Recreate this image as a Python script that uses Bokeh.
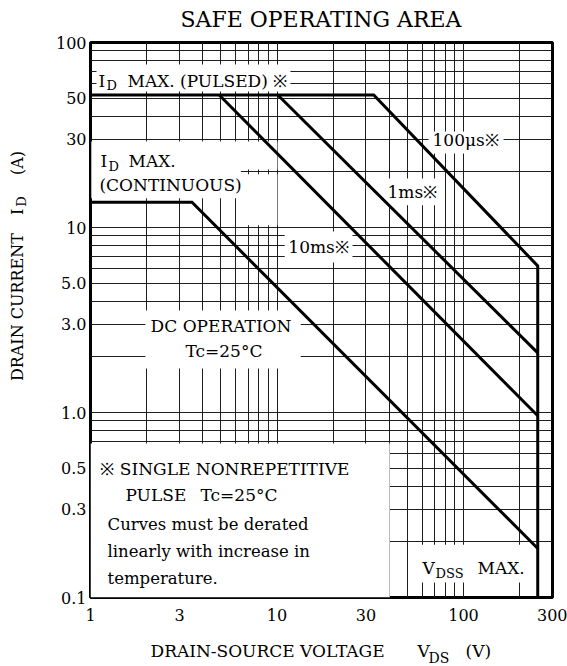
import math
from bokeh.plotting import figure
from bokeh.layouts import column, row
from bokeh.models import FixedTicker, Label, Range1d
from bokeh.embed import file_html
from bokeh.resources import INLINE

# ---------------- data ----------------
x_ticks = [1, 3, 10, 30, 100, 300]
x_tick_labels = ["1", "3", "10", "30", "100", "300"]
y_ticks = [0.1, 0.3, 0.5, 1, 3, 5, 10, 30, 50, 100]
y_tick_labels = ["0.1", "0.3", "0.5", "1.0", "3.0", "5.0", "10", "30", "50", "100"]

# limit curves: V_DS (V) and I_D (A) vertices
v_100us = [1, 33, 250, 250]
i_100us = [52, 52, 6.2, 0.1]
v_1ms = [10.1, 250]
i_1ms = [52, 2.1]
v_10ms = [4.9, 250]
i_10ms = [52, 0.96]
v_dc = [1, 3.5, 250]
i_dc = [13.7, 13.7, 0.184]

# grid positions (1..9 per decade)
grid_x = [k * 10 ** e for e in range(0, 3) for k in range(1, 10) if k * 10 ** e <= 300]
grid_y = [round(k * 10.0 ** e, 6) for e in range(-1, 3) for k in range(1, 10) if k * 10.0 ** e <= 100]

FONT = "DejaVu Serif"
W, H = 567, 666
YW = 40      # width of the y-title strip
TH = 30      # height of the title strip
PB = 625     # page y where the main plot canvas ends

p = figure(width=W - YW, height=PB - TH, x_axis_type="log", y_axis_type="log",
           x_range=Range1d(1, 300), y_range=Range1d(0.1, 100),
           output_backend="svg", toolbar_location=None,
           min_border_left=50, min_border_right=15, min_border_top=12, min_border_bottom=28)

p.background_fill_color = "white"
p.border_fill_color = "white"
p.outline_line_color = "black"
p.outline_line_width = 3

for ax, ticks, labels, standoff in ((p.xaxis[0], x_ticks, x_tick_labels, 11),
                                    (p.yaxis[0], y_ticks, y_tick_labels, 4)):
    ax.ticker = FixedTicker(ticks=ticks, minor_ticks=[])
    ax.major_label_overrides = {t: s for t, s in zip(ticks, labels)}
    ax.axis_line_color = None
    ax.major_tick_line_color = None
    ax.minor_tick_line_color = None
    ax.major_tick_in = 0
    ax.major_tick_out = 0
    ax.major_label_text_font = FONT
    ax.major_label_text_font_size = "16px"
    ax.major_label_text_color = "black"
    ax.major_label_standoff = standoff

p.xgrid.ticker = FixedTicker(ticks=grid_x)
p.ygrid.ticker = FixedTicker(ticks=grid_y)
for g in (p.xgrid, p.ygrid):
    g.grid_line_color = "#1e1e1e"
    g.grid_line_width = 1

# white label backgrounds that interrupt the grid (left, right, bottom, top)
boxes = [
    (1.077, 11.8, 54.3, 76.0),
    (1.01, 6.4, 14.4, 29.2),
    (6.4, 10.05, 20.6, 29.2),
    (6.4, 10.05, 10.3, 19.4),
    (64.9, 164, 25.1, 33.0),
    (37.5, 75, 13.2, 18.4),
    (11.0, 25.4, 6.47, 9.5),
    (1.97, 13.4, 1.73, 3.56),
    (1.0, 40.2, 0.1, 0.68),
    (56.7, 234, 0.1205, 0.193),
]
p.quad(left=[b[0] for b in boxes], right=[b[1] for b in boxes],
       bottom=[b[2] for b in boxes], top=[b[3] for b in boxes],
       fill_color="white", line_color=None)

for v, i in ((v_100us, i_100us), (v_1ms, i_1ms), (v_10ms, i_10ms), (v_dc, i_dc)):
    p.line(v, i, line_width=3, line_color="black", line_join="miter")


def lab(fig, x, y, text, size="17px", align="left", angle=0.0):
    fig.add_layout(Label(x=x, y=y, text=text, text_font=FONT, text_font_size=size,
                         text_align=align, text_baseline="middle", angle=angle,
                         text_color="black"))


# pulsed limit
lab(p, 1.104, 62.3, "I")
lab(p, 1.218, 58.6, "D", size="13px")
lab(p, 1.579, 62.3, "MAX. (PULSED) ※")
# continuous limit
lab(p, 1.131, 22.8, "I")
lab(p, 1.249, 21.4, "D", size="13px")
lab(p, 1.598, 22.8, "MAX.")
lab(p, 1.117, 16.9, "(CONTINUOUS)")
# pulse widths
lab(p, 68.2, 29.9, "100μs※")
lab(p, 39.1, 15.5, "1ms※")
lab(p, 11.5, 7.8, "10ms※")
# DC
lab(p, 2.10, 2.95, "DC OPERATION")
lab(p, 3.23, 2.16, "Tc=25°C")
# notes
lab(p, 1.131, 0.498, "※ SINGLE NONREPETITIVE")
lab(p, 1.54, 0.356, "PULSE")
lab(p, 3.89, 0.356, "Tc=25°C")
lab(p, 1.234, 0.248, "Curves must be derated", size="16.5px")
lab(p, 1.234, 0.177, "linearly with increase in", size="16.5px")
lab(p, 1.234, 0.127, "temperature.", size="16.5px")
# VDSS
lab(p, 60.3, 0.1443, "V")
lab(p, 70.8, 0.1356, "DSS", size="13px")
lab(p, 118.9, 0.1443, "MAX.")


def strip(width, height, x0, y0):
    """A text-only figure whose data coordinates are page pixels (y downward)."""
    f = figure(width=width, height=height, output_backend="svg", toolbar_location=None,
               x_range=Range1d(x0, x0 + width), y_range=Range1d(y0 + height, y0),
               x_axis_location=None, y_axis_location=None, min_border=0)
    f.grid.visible = False
    f.outline_line_color = None
    f.background_fill_color = "white"
    f.border_fill_color = "white"
    return f


# title strip (page y 0..30)
tfig = strip(W, TH, 0, 0)
lab(tfig, 320.5, 18.5, "SAFE OPERATING AREA", size="22px", align="center")

# y-axis title strip (page x 0..40, y 30..625)
yfig = strip(YW, PB - TH, 0, TH)
lab(yfig, 17, 393, "DRAIN CURRENT", size="16px", angle=math.pi / 2)
lab(yfig, 17, 215, "I", size="16px", angle=math.pi / 2)
lab(yfig, 21, 206, "D", size="13px", angle=math.pi / 2)
lab(yfig, 17, 172, "(A)", size="16px", angle=math.pi / 2)

# x-axis title strip (page x 0..567, y 625..666)
xfig = strip(W, H - PB, 0, PB)
lab(xfig, 150, 650.5, "DRAIN-SOURCE VOLTAGE")
lab(xfig, 417, 650.5, "V")
lab(xfig, 428, 657, "DS", size="14px")
lab(xfig, 465, 650.5, "(V)")

layout = column(tfig, row(yfig, p, spacing=0), xfig, spacing=0)
open("out.html", "w").write(file_html(layout, INLINE))
